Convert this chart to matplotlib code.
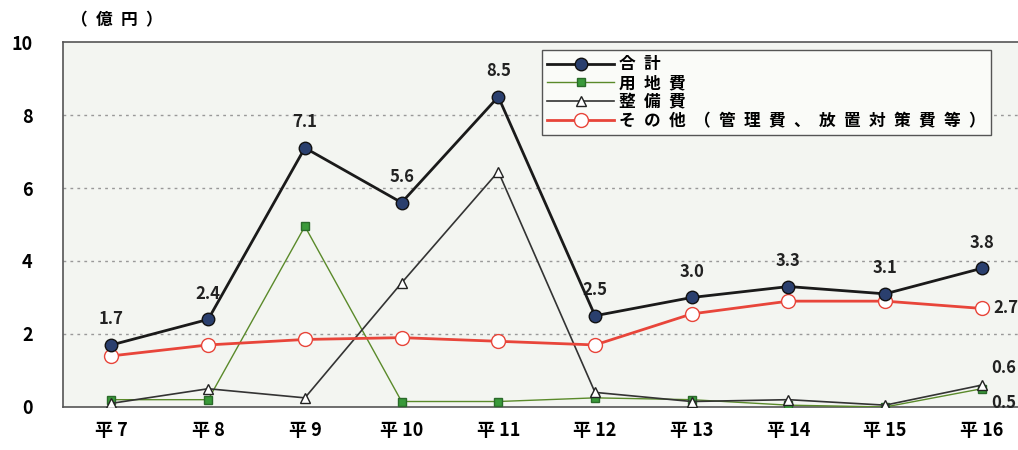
import matplotlib.pyplot as plt

plt.rcParams['font.family'] = ['Noto Sans CJK JP', 'DejaVu Sans']

years = ['平 7', '平 8', '平 9', '平 10', '平 11', '平 12', '平 13', '平 14', '平 15', '平 16']
total = [1.7, 2.4, 7.1, 5.6, 8.5, 2.5, 3.0, 3.3, 3.1, 3.8]
land = [0.2, 0.2, 4.95, 0.15, 0.15, 0.25, 0.2, 0.05, 0.0, 0.5]
maint = [0.1, 0.5, 0.25, 3.4, 6.45, 0.4, 0.15, 0.2, 0.05, 0.6]
other = [1.4, 1.7, 1.85, 1.9, 1.8, 1.7, 2.55, 2.9, 2.9, 2.7]

x = list(range(len(years)))


def spaced(s):
    # wide letter spacing like the scanned original
    return '\u2002'.join(s)


fig = plt.figure(figsize=(10.18, 4.5), dpi=100)
ax = fig.add_axes([0.062, 0.0956, 0.95, 0.811])
ax.set_facecolor('#f3f5f1')

for yv in [2, 4, 6, 8]:
    ax.axhline(yv, color='#999999', linestyle=(0, (2, 3)), linewidth=1, zorder=0)

ax.plot(x, land, color='#5a8a2a', linewidth=1, marker='s', markersize=6,
        markerfacecolor='#3a9a3a', markeredgecolor='#2a6a2a', zorder=3, label=spaced('用地費'))
ax.plot(x, maint, color='#333333', linewidth=1.2, marker='^', markersize=7,
        markerfacecolor='white', markeredgecolor='#222222', zorder=3, label=spaced('整備費'))
ax.plot(x, other, color='#e8453a', linewidth=2, marker='o', markersize=10,
        markerfacecolor='white', markeredgecolor='#e8453a', zorder=4,
        label=spaced('その他（管理費、放置対策費等）'))
ax.plot(x, total, color='#1a1a1a', linewidth=2, marker='o', markersize=9,
        markerfacecolor='#2a3f6e', markeredgecolor='#111111', zorder=5, label=spaced('合計'))

for i, v in enumerate(total):
    ax.annotate(f'{v:.1f}', (i, v), xytext=(0, 12), textcoords='offset points',
                ha='center', va='bottom', fontsize=12, fontweight='bold', color='#222222')
ax.annotate(f'{other[-1]:.1f}', (9, other[-1]), xytext=(8, 0), textcoords='offset points',
            ha='left', va='center', fontsize=12, fontweight='bold', color='#222222')
ax.annotate(f'{maint[-1]:.1f}', (9, maint[-1]), xytext=(7, 12), textcoords='offset points',
            ha='left', va='center', fontsize=12, fontweight='bold', color='#222222')
ax.annotate(f'{land[-1]:.1f}', (9, land[-1]), xytext=(7, -10), textcoords='offset points',
            ha='left', va='center', fontsize=12, fontweight='bold', color='#222222')

ax.set_xlim(-0.5, 9.5)
ax.set_ylim(0, 10)
ax.set_yticks([0, 2, 4, 6, 8, 10])
ax.set_xticks(x)
ax.set_xticklabels(years, fontsize=13, fontweight='bold')
ax.tick_params(axis='y', labelsize=13, length=0, pad=22)
ax.tick_params(axis='x', length=0, pad=10)
for lab in ax.get_yticklabels():
    lab.set_fontweight('bold')
for s in ax.spines.values():
    s.set_color('#555555')
    s.set_linewidth(1.2)

fig.text(0.115, 0.955, spaced('（億円）'), fontsize=12, fontweight='bold', ha='center', va='center')

handles, labels = ax.get_legend_handles_labels()
order = [3, 0, 1, 2]
leg = ax.legend([handles[i] for i in order], [labels[i] for i in order],
                loc='upper left', bbox_to_anchor=(0.487, 1.0),
                prop={'weight': 'bold', 'size': 12}, frameon=True, fancybox=False,
                handlelength=4, labelspacing=0.05, borderpad=0.3, handletextpad=0.3)
leg.get_frame().set_edgecolor('#555555')
leg.get_frame().set_facecolor('#fafbf8')
leg.get_frame().set_alpha(1)

fig.savefig('out.png', dpi=100)
